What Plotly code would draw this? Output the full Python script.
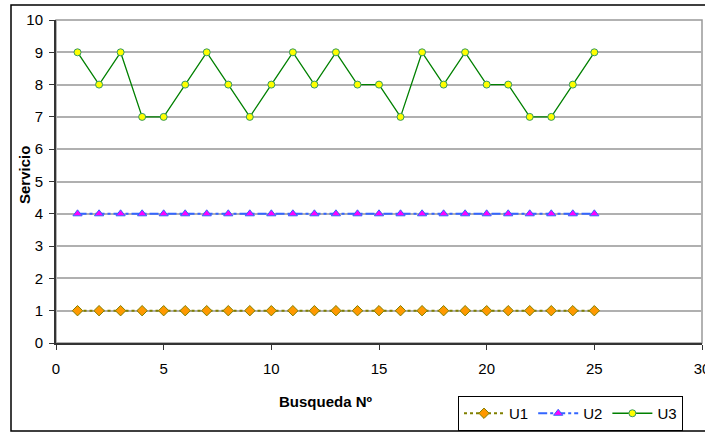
import plotly.graph_objects as go

busqueda = list(range(1, 26))
u1 = [1] * 25
u2 = [4] * 25
u3 = [9, 8, 9, 7, 7, 8, 9, 8, 7, 8, 9, 8, 9, 8, 8, 7, 9, 8, 9, 8, 8, 7, 7, 8, 9]

W, H = 705, 432
L, R, T, B = 56, 3, 20, 89
pw, ph = W - L - R, H - T - B

def px_to_paper_x(px):
    return (px - L) / pw

def px_to_paper_y(py):
    return (H - B - py) / ph

fig = go.Figure()
fig.add_trace(go.Scatter(
    x=busqueda, y=u1, name="U1", mode="lines+markers",
    line=dict(color="#808000", width=2, dash="dot"),
    marker=dict(symbol="diamond", size=8, color="#FF9900", line=dict(color="#808000", width=1)),
))
fig.add_trace(go.Scatter(
    x=busqueda, y=u2, name="U2", mode="lines+markers",
    line=dict(color="#3366FF", width=2, dash="dashdot"),
    marker=dict(symbol="triangle-up", size=8, color="#FF00FF", line=dict(color="#3366FF", width=1)),
))
fig.add_trace(go.Scatter(
    x=busqueda, y=u3, name="U3", mode="lines+markers",
    line=dict(color="#008000", width=1.3),
    marker=dict(symbol="circle", size=7, color="#FFFF00", line=dict(color="#339966", width=1)),
))

fig.update_layout(
    width=W, height=H,
    margin=dict(l=L, r=R, t=T, b=B, autoexpand=False),
    paper_bgcolor="white", plot_bgcolor="white",
    font=dict(family="Liberation Sans, Arial, sans-serif", size=15, color="black"),
    showlegend=True,
    legend=dict(
        orientation="h", x=px_to_paper_x(458), y=px_to_paper_y(396),
        xanchor="left", yanchor="top",
        bordercolor="black", borderwidth=1, bgcolor="white",
        font=dict(size=15), itemwidth=40, tracegroupgap=0,
    ),
    xaxis=dict(
        range=[0, 30], tickvals=[0, 5, 10, 15, 20, 25, 30],
        showgrid=False, zeroline=False,
        showline=True, linecolor="#333333", linewidth=2,
        ticks="outside", ticklen=5, tickcolor="#333333",
        ticklabeloverflow="allow", ticklabelstandoff=6,
        tickfont=dict(size=15),
    ),
    yaxis=dict(
        range=[0, 10], dtick=1,
        showgrid=True, gridcolor="#B0B0B0", gridwidth=1.5, zeroline=False,
        showline=True, linecolor="#333333", linewidth=2,
        ticks="outside", ticklen=5, tickcolor="#333333",
        ticklabelstandoff=3,
        tickfont=dict(size=15),
    ),
    annotations=[
        dict(text="<b>Busqueda Nº</b>", xref="paper", yref="paper",
             x=px_to_paper_x(326), y=px_to_paper_y(402), xanchor="center", yanchor="middle",
             showarrow=False, font=dict(size=15)),
        dict(text="<b>Servicio</b>", xref="paper", yref="paper", textangle=-90,
             x=px_to_paper_x(24), y=px_to_paper_y(175), xanchor="center", yanchor="middle",
             showarrow=False, font=dict(size=15)),
    ],
    shapes=[
        dict(type="rect", xref="paper", yref="paper", x0=0, x1=1, y0=0, y1=1,
             line=dict(color="#999999", width=1.5), layer="below"),
        dict(type="rect", xref="paper", yref="paper",
             x0=px_to_paper_x(11), x1=px_to_paper_x(706), y0=px_to_paper_y(431), y1=px_to_paper_y(5),
             line=dict(color="black", width=1.5)),
    ],
)

fig.write_html("out.html")
